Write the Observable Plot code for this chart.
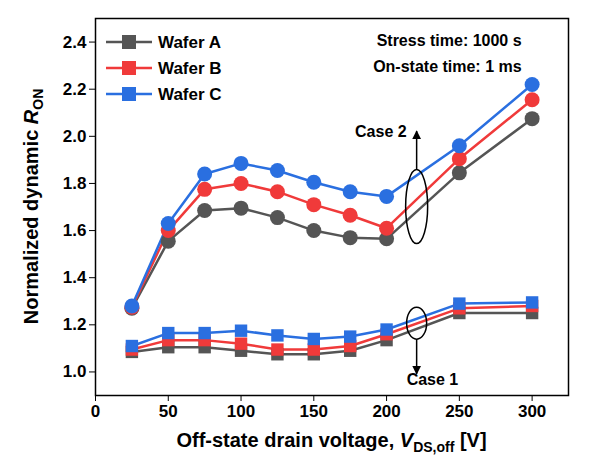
<!DOCTYPE html>
<html><head><meta charset="utf-8">
<script src="https://cdn.jsdelivr.net/npm/d3@7"></script>
<script src="https://cdn.jsdelivr.net/npm/@observablehq/plot@0.6"></script>
<style>body{margin:0;background:#fff;font-family:"Liberation Sans",Arial,sans-serif}</style>
</head><body><div id="c"></div>
<script>
const voltages=[25,50,75,100,125,150,175,200,250,300];
const wafers=["Wafer A","Wafer B","Wafer C"];
const colors=["#555555","#f03a3a","#2a6fe0"];
const case2A=[1.27,1.555,1.685,1.695,1.655,1.60,1.57,1.565,1.845,2.075];
const case2B=[1.275,1.60,1.775,1.80,1.765,1.71,1.665,1.61,1.905,2.155];
const case2C=[1.28,1.63,1.84,1.885,1.855,1.805,1.765,1.745,1.96,2.22];
const case1A=[1.085,1.105,1.105,1.09,1.075,1.075,1.09,1.135,1.25,1.25];
const case1B=[1.095,1.135,1.135,1.12,1.095,1.095,1.11,1.16,1.27,1.28];
const case1C=[1.11,1.165,1.165,1.175,1.155,1.14,1.15,1.18,1.29,1.295];
const xTicks=[0,50,100,150,200,250,300];
const yTicks=[1.0,1.2,1.4,1.6,1.8,2.0,2.2,2.4];

const mk=(arr,w)=>arr.map((v,i)=>({x:voltages[i],y:v,w}));
const c2=[...mk(case2A,"Wafer A"),...mk(case2B,"Wafer B"),...mk(case2C,"Wafer C")];
const c1=[...mk(case1A,"Wafer A"),...mk(case1B,"Wafer B"),...mk(case1C,"Wafer C")];
const plot=Plot.plot({
  width:610,height:475,marginLeft:95,marginRight:42,marginTop:18,marginBottom:80,
  style:{fontFamily:"Liberation Sans, Arial, sans-serif",fontSize:"17px",fontWeight:"bold",color:"#000"},
  x:{domain:[0,325],ticks:xTicks,label:null,tickSize:6},
  y:{domain:[0.9,2.5],ticks:yTicks,tickFormat:d3.format(".1f"),label:null,tickSize:6},
  color:{domain:wafers,range:colors},
  marks:[
    Plot.frame({stroke:"#000",strokeWidth:1.5}),
    Plot.line(c2,{x:"x",y:"y",z:"w",stroke:"w",strokeWidth:2.5}),
    Plot.dot(c2,{x:"x",y:"y",fill:"w",r:7.5,symbol:"circle"}),
    Plot.line(c1,{x:"x",y:"y",z:"w",stroke:"w",strokeWidth:2.5}),
    Plot.dot(c1,{x:"x",y:"y",fill:"w",r:7,symbol:"square"}),
  ]
});
document.getElementById("c").appendChild(plot);
const svg=d3.select(plot), X=plot.scale("x"), Y=plot.scale("y");
const f="Liberation Sans, Arial, sans-serif";
const g=svg.append("g").attr("text-anchor","start").attr("font-family",f).attr("font-weight","bold");
wafers.forEach((w,i)=>{
  const y=42+i*26;
  g.append("line").attr("x1",106).attr("x2",152).attr("y1",y).attr("y2",y).attr("stroke",colors[i]).attr("stroke-width",2.5);
  g.append("rect").attr("x",122).attr("y",y-7).attr("width",14).attr("height",14).attr("fill",colors[i]);
  g.append("text").attr("x",158).attr("y",y+6).text(w).attr("font-size",17);
});
g.append("text").attr("x",X.apply(300)-10).attr("y",46).attr("text-anchor","end").text("Stress time: 1000 s").attr("font-size",16);
g.append("text").attr("x",X.apply(300)-10).attr("y",72).attr("text-anchor","end").text("On-state time: 1 ms").attr("font-size",16);
const ex=X.apply(221);
g.append("ellipse").attr("cx",ex).attr("cy",Y.apply(1.70)).attr("rx",11).attr("ry",37).attr("fill","none").attr("stroke","#000").attr("stroke-width",1.5);
g.append("ellipse").attr("cx",ex).attr("cy",Y.apply(1.205)).attr("rx",10).attr("ry",16).attr("fill","none").attr("stroke","#000").attr("stroke-width",1.5);
const defs=svg.append("defs");
defs.append("marker").attr("id","ah").attr("viewBox","0 0 10 10").attr("refX",9).attr("refY",5).attr("markerWidth",6).attr("markerHeight",6).attr("orient","auto").append("path").attr("d","M0,0L10,5L0,10z").attr("fill","#000");
g.append("line").attr("x1",ex).attr("x2",ex).attr("y1",Y.apply(1.70)-37).attr("y2",Y.apply(2.02)).attr("stroke","#000").attr("stroke-width",1.5).attr("marker-end","url(#ah)");
g.append("line").attr("x1",ex).attr("x2",ex).attr("y1",Y.apply(1.205)+16).attr("y2",Y.apply(0.99)).attr("stroke","#000").attr("stroke-width",1.5).attr("marker-end","url(#ah)");
g.append("text").attr("x",ex-10).attr("y",Y.apply(2.02)+6).attr("text-anchor","end").text("Case 2").attr("font-size",16);
g.append("text").attr("x",ex-10).attr("y",Y.apply(0.97)+6).attr("text-anchor","start").text("Case 1").attr("font-size",16);
const xl=g.append("text").attr("x",(95+568)/2).attr("y",447).attr("text-anchor","middle").attr("font-size",20);
xl.append("tspan").text("Off-state drain voltage, ");
xl.append("tspan").attr("font-style","italic").text("V");
xl.append("tspan").attr("font-size",14).attr("dy",5).text("DS,off");
xl.append("tspan").attr("dy",-5).text(" [V]");
const yl=g.append("text").attr("transform",`translate(38,${(18+395)/2}) rotate(-90)`).attr("text-anchor","middle").attr("font-size",20);
yl.append("tspan").text("Normalized dynamic ");
yl.append("tspan").attr("font-style","italic").text("R");
yl.append("tspan").attr("font-size",14).attr("dy",5).text("ON");
</script></body></html>
